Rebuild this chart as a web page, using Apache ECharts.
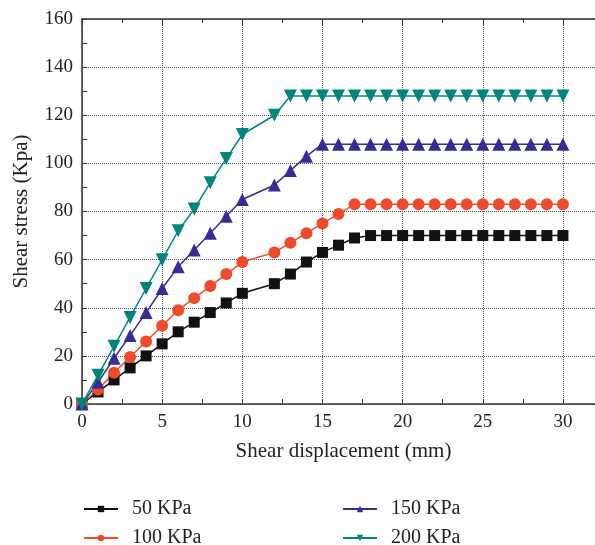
<!DOCTYPE html>
<html>
<head>
<meta charset="utf-8">
<script src="https://cdn.jsdelivr.net/npm/echarts@6/dist/echarts.min.js"></script>
<style>
  html, body { margin: 0; padding: 0; background: #fff; }
  #main { width: 595px; height: 545px; }
</style>
</head>
<body>
<div id="main"></div>
<script>
var myChart = echarts.init(document.getElementById('main'));

// shear displacement (mm), no reading at 11 mm
var disp = [0, 1, 2, 3, 4, 5, 6, 7, 8, 9, 10, 12, 13, 14, 15, 16, 17, 18, 19, 20, 21, 22, 23, 24, 25, 26, 27, 28, 29, 30];

var names = ['50 KPa', '100 KPa', '150 KPa', '200 KPa'];
var s50  = [0, 5, 10, 15, 20, 25, 30, 34, 38, 42, 46, 50, 54, 59, 63, 66, 69, 70, 70, 70, 70, 70, 70, 70, 70, 70, 70, 70, 70, 70];
var s100 = [0, 6, 13, 19.5, 26, 32.5, 39, 44, 49, 54, 59, 63, 67, 71, 75, 79, 83, 83, 83, 83, 83, 83, 83, 83, 83, 83, 83, 83, 83, 83];
var s150 = [0, 9, 19, 28.5, 38, 48, 57, 64, 71, 78, 85, 91, 97, 103, 108, 108, 108, 108, 108, 108, 108, 108, 108, 108, 108, 108, 108, 108, 108, 108];
var s200 = [0, 12, 24, 36, 48, 60, 72, 81, 92, 102, 112, 120, 128, 128, 128, 128, 128, 128, 128, 128, 128, 128, 128, 128, 128, 128, 128, 128, 128, 128];

var colors = ['#111111', '#ef4a2b', '#352d92', '#00857c'];
var font = 'Liberation Serif';

function pairs(ys) {
    return disp.map(function (x, i) { return [x, ys[i]]; });
}

function makeSeries(name, ys, color, symbol, size, rotate) {
    return {
        name: name,
        type: 'line',
        xAxisIndex: 0,
        data: pairs(ys),
        symbol: symbol,
        symbolSize: size,
        symbolRotate: rotate || 0,
        showAllSymbol: true,
        itemStyle: { color: color },
        lineStyle: { color: color, width: 1.5 }
    };
}

// one legend box per entry, laid out as two columns
function legendAt(name, left, top) {
    return {
        data: [name],
        left: left, top: top,
        padding: 0,
        itemWidth: 34, itemHeight: 8,
        textStyle: { fontFamily: font, fontSize: 20, color: '#222', padding: [0, 0, 0, 9] }
    };
}

option = {
    animation: false,
    textStyle: { fontFamily: font },
    grid: { left: 82, right: 0, top: 19, bottom: 141 },
    legend: [
        legendAt(names[0], 83, 499),
        legendAt(names[1], 83, 528),
        legendAt(names[2], 342, 499),
        legendAt(names[3], 342, 528)
    ],
    xAxis: [
        {
            type: 'value',
            min: 0, max: 32, interval: 5,
            name: 'Shear displacement (mm)',
            nameLocation: 'middle',
            nameGap: 37,
            nameTextStyle: { fontFamily: font, fontSize: 21, color: '#222', padding: [0, 0, 0, 10] },
            axisLine: { onZero: false, lineStyle: { color: '#333', width: 1.5 } },
            axisTick: { inside: true, length: 5, lineStyle: { color: '#333' } },
            minorTick: { show: true, splitNumber: 2, length: 5, lineStyle: { color: '#333' } },
            axisLabel: { fontFamily: font, fontSize: 19, color: '#222', margin: 9, showMaxLabel: false },
            splitLine: { show: true, lineStyle: { type: 'dotted', color: '#555', width: 1 } }
        },
        {
            type: 'value',
            position: 'top',
            min: 0, max: 32, interval: 5,
            axisLine: { onZero: false, lineStyle: { color: '#333', width: 1.5 } },
            axisTick: { inside: true, length: 6, lineStyle: { color: '#333' } },
            minorTick: { show: true, splitNumber: 2, length: 4, lineStyle: { color: '#333' } },
            axisLabel: { show: false },
            splitLine: { show: false }
        }
    ],
    yAxis: {
        type: 'value',
        min: 0, max: 160, interval: 20,
        name: 'Shear stress (Kpa)',
        nameLocation: 'middle',
        nameGap: 50,
        nameTextStyle: { fontFamily: font, fontSize: 21, color: '#222' },
        axisLine: { show: true, onZero: false, lineStyle: { color: '#333', width: 1.5 } },
        axisTick: { show: true, inside: true, length: 5, lineStyle: { color: '#333' } },
        minorTick: { show: true, splitNumber: 2, length: 5, lineStyle: { color: '#333' } },
        axisLabel: { fontFamily: font, fontSize: 19, color: '#222', margin: 9 },
        splitLine: { show: true, lineStyle: { type: 'dotted', color: '#555', width: 1 } }
    },
    series: [
        makeSeries(names[0], s50, colors[0], 'rect', 11),
        makeSeries(names[1], s100, colors[1], 'circle', 12),
        makeSeries(names[2], s150, colors[2], 'triangle', 13),
        makeSeries(names[3], s200, colors[3], 'triangle', 13, 180)
    ]
};

myChart.setOption(option);
</script>
</body>
</html>
